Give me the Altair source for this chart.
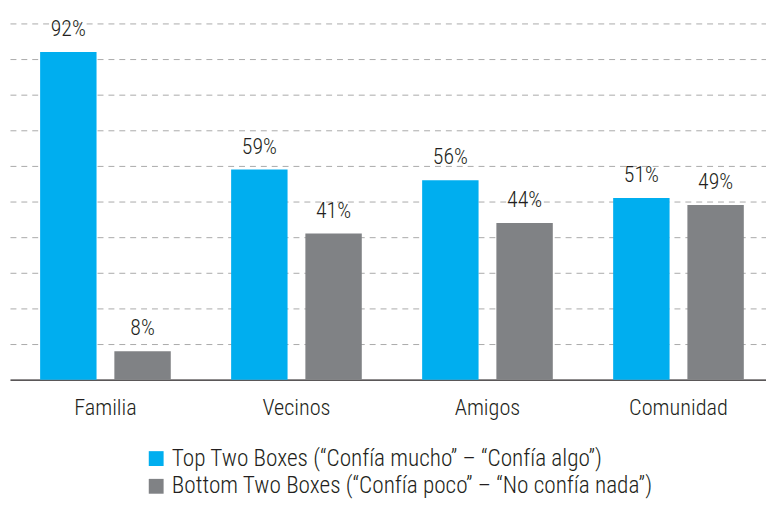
import altair as alt
import pandas as pd

categories = ["Familia", "Vecinos", "Amigos", "Comunidad"]
series_names = [
    "Top Two Boxes (\u201cConfía mucho\u201d \u2013 \u201cConfía algo\u201d)",
    "Bottom Two Boxes (\u201cConfía poco\u201d \u2013 \u201cNo confía nada\u201d)",
]
top_values = [92, 59, 56, 51]
bottom_values = [8, 41, 44, 49]
colors = ["#00AEEF", "#808285"]

rows = []
for c, t, b in zip(categories, top_values, bottom_values):
    rows.append({"cat": c, "serie": series_names[0], "val": t, "lbl": f"{t}%"})
    rows.append({"cat": c, "serie": series_names[1], "val": b, "lbl": f"{b}%"})
df = pd.DataFrame(rows)

FONT = "Roboto Condensed, DejaVu Sans Condensed, sans-serif"
TXT = "#231F20"
FS = 22

x = alt.X("cat:N", sort=categories, title=None,
          scale=alt.Scale(paddingInner=0.316, paddingOuter=0.137, align=0.576),
          axis=alt.Axis(labelAngle=0, ticks=False, domainColor=TXT,
                        domainWidth=1.2, labelFontSize=FS + 0.5, labelFont=FONT,
                        labelFontWeight=300, labelBaseline="alphabetic",
                        labelColor=TXT, labelPadding=35, grid=False))
xo = alt.XOffset("serie:N", sort=series_names,
                 scale=alt.Scale(paddingInner=0.24, paddingOuter=0))
y = alt.Y("val:Q", title=None,
          scale=alt.Scale(domain=[0, 100], nice=False),
          axis=alt.Axis(labels=False, ticks=False, domain=False,
                        values=list(range(10, 101, 10)),
                        grid=True, gridColor="#AAAAAA", gridDash=[6, 5],
                        gridWidth=1))
color = alt.Color("serie:N", sort=series_names,
                  scale=alt.Scale(domain=series_names, range=colors),
                  legend=alt.Legend(title=None, orient="none", legendX=136,
                                    legendY=428, direction="vertical",
                                    symbolType="square", symbolSize=225,
                                    symbolStrokeWidth=0, labelFontSize=23.5,
                                    labelFont=FONT, labelFontWeight=300,
                                    labelColor=TXT, rowPadding=3,
                                    labelOffset=4, labelLimit=700))

base = alt.Chart(df)
bars = base.mark_bar().encode(x=x, xOffset=xo, y=y, color=color)
labels = base.mark_text(baseline="alphabetic", dy=-16, fontSize=FS,
                        fontWeight=300, font=FONT, color=TXT).encode(
    x=x, xOffset=xo, y=y, text="lbl:N")

chart = (bars + labels).properties(
    width=764, height=360,
    padding={"left": 2, "top": 13, "right": 0, "bottom": 118},
    autosize=alt.AutoSizeParams(type="none"),
).configure_view(stroke=None)

chart.save("out.html", embed_options={"renderer": "svg", "actions": False})
